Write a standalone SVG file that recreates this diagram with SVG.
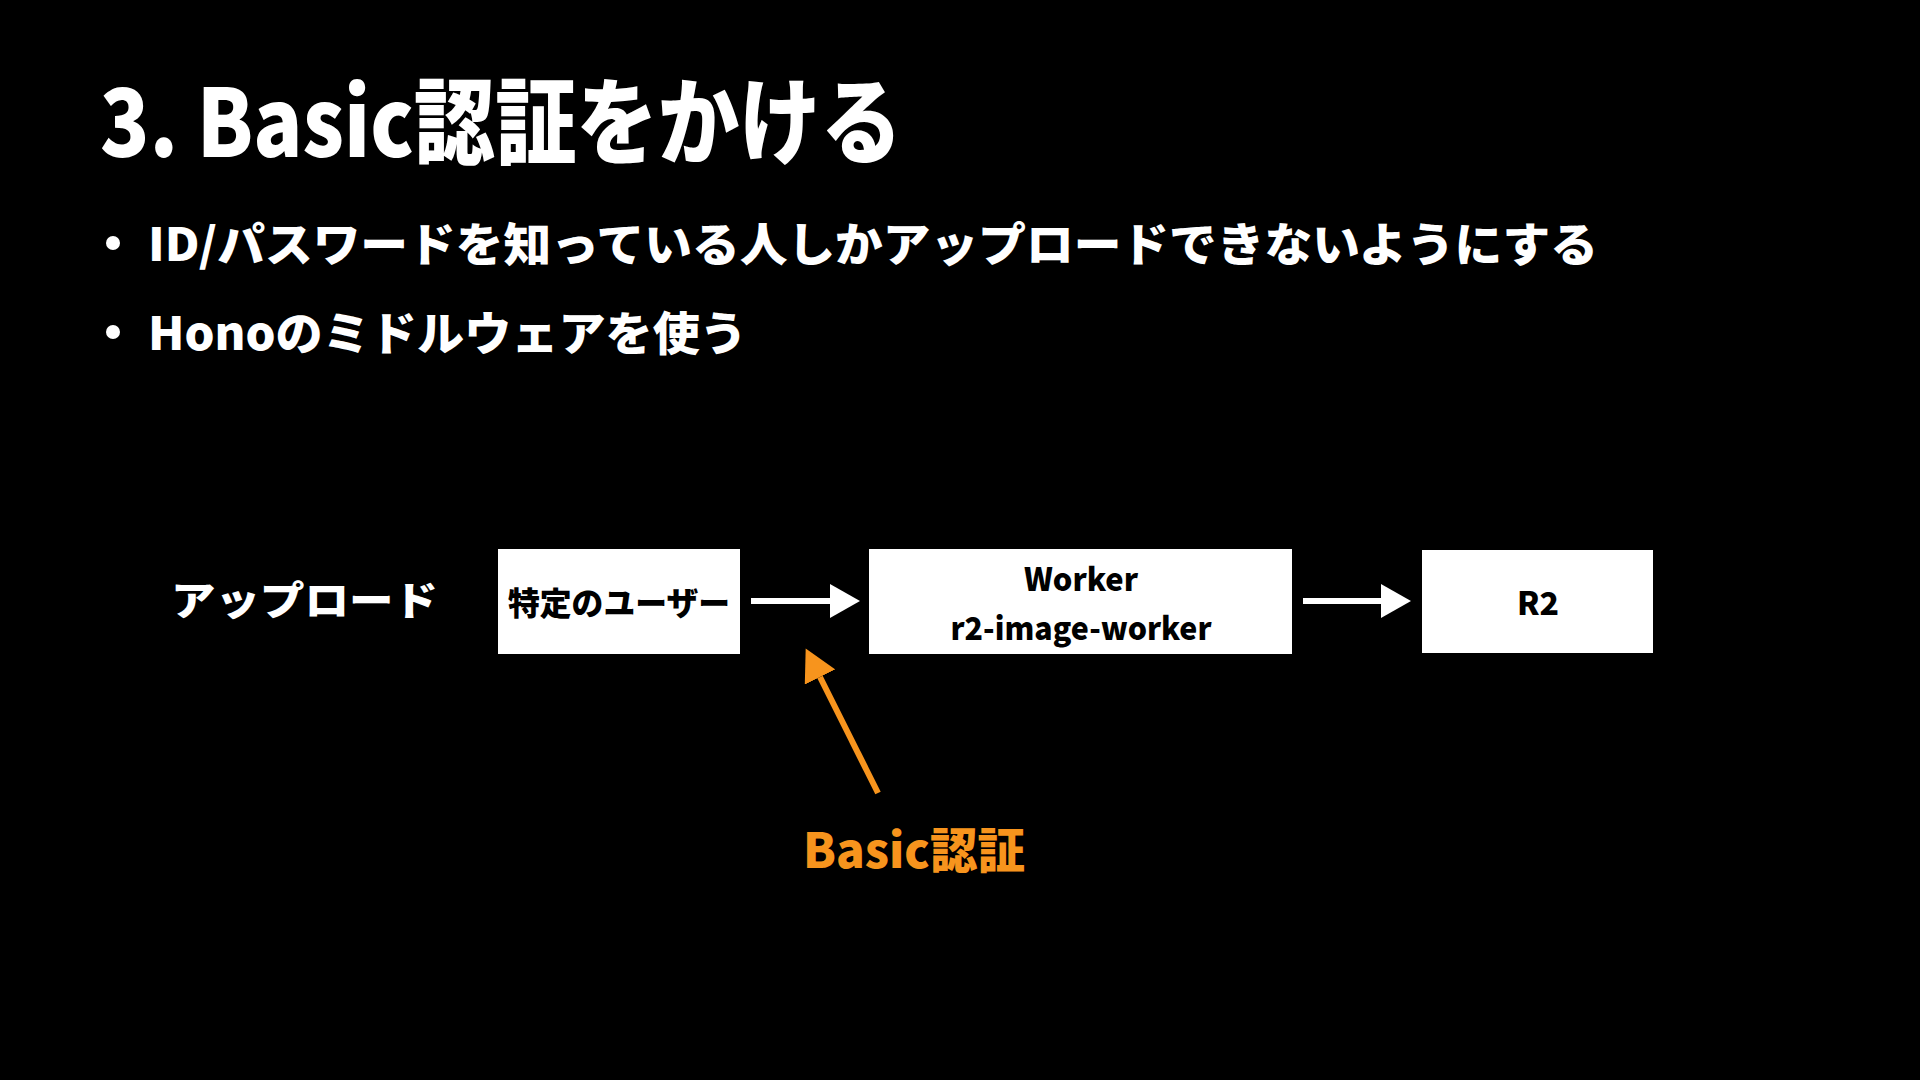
<svg xmlns="http://www.w3.org/2000/svg" width="1920" height="1080" viewBox="0 0 1920 1080">
<defs>
<style>
text{font-family:"Noto Sans CJK JP","Noto Sans",sans-serif;}
.title{fill:#fff;font-size:94px;font-weight:900;}
.bullet{fill:#fff;font-size:46px;font-weight:900;}
.lbl{fill:#fff;font-size:40px;font-weight:900;}
.node rect{fill:#fff;}
.node text{fill:#000;font-size:32px;font-weight:900;text-anchor:middle;dominant-baseline:central;}
.wline{stroke:#fff;stroke-width:6;fill:none;}
.oline{stroke:#F7941D;stroke-width:6;fill:none;}
.orange{fill:#F7941D;font-size:48px;font-weight:900;}
</style>
<marker id="wh" markerUnits="userSpaceOnUse" markerWidth="30" markerHeight="34" refX="0" refY="17" orient="auto" viewBox="0 0 30 34">
<polygon points="0,0 30,17 0,34" fill="#fff"/>
</marker>
<marker id="oh" markerUnits="userSpaceOnUse" markerWidth="32" markerHeight="34" refX="0" refY="17" orient="auto" viewBox="0 0 32 34">
<polygon points="0,0 32,17 0,34" fill="#F7941D"/>
</marker>
</defs>
<rect width="1920" height="1080" fill="#000"/>
<text class="title" x="100" y="157" textLength="802" lengthAdjust="spacingAndGlyphs">3. Basic認証をかける</text>
<g id="bullets">
<circle cx="113" cy="243" r="7" fill="#fff"/>
<text class="bullet" x="148" y="261" textLength="1450" lengthAdjust="spacingAndGlyphs">ID/パスワードを知っている人しかアップロードできないようにする</text>
<circle cx="113" cy="332" r="7" fill="#fff"/>
<text class="bullet" x="148" y="350" textLength="599" lengthAdjust="spacingAndGlyphs">Honoのミドルウェアを使う</text>
</g>
<text id="upload-label" class="lbl" x="171" y="615" textLength="267" lengthAdjust="spacingAndGlyphs">アップロード</text>
<g id="node-user" class="node">
<rect x="498" y="549" width="242" height="105"/>
<text x="619" y="601" textLength="222" lengthAdjust="spacingAndGlyphs">特定のユーザー</text>
</g>
<g id="node-worker" class="node">
<rect x="869" y="549" width="423" height="105"/>
<text x="1081" y="577" textLength="114" lengthAdjust="spacingAndGlyphs">Worker</text>
<text x="1081" y="626" textLength="261" lengthAdjust="spacingAndGlyphs">r2-image-worker</text>
</g>
<g id="node-r2" class="node">
<rect x="1422" y="550" width="231" height="103"/>
<text x="1538" y="601">R2</text>
</g>
<g id="connectors">
<line class="wline" x1="751" y1="601" x2="830" y2="601" marker-end="url(#wh)"/>
<line class="wline" x1="1303" y1="601" x2="1381" y2="601" marker-end="url(#wh)"/>
<line class="oline" x1="878" y1="793" x2="820" y2="677" marker-end="url(#oh)"/>
</g>
<text id="basic-label" class="orange" x="803" y="868" textLength="222" lengthAdjust="spacingAndGlyphs">Basic認証</text>
</svg>
